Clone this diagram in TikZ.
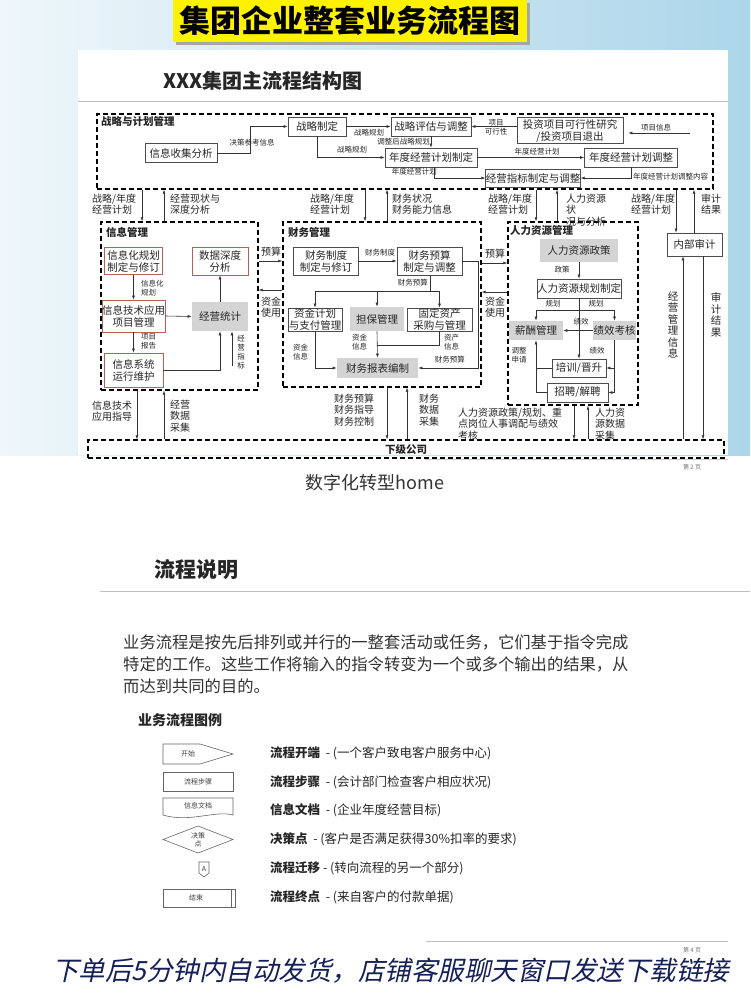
\documentclass[tikz,border=0pt]{standalone}
\usepackage{fontspec}
\setmainfont{Noto Sans CJK SC}
\newfontfamily\kaifont{Noto Sans CJK SC}[FakeSlant=0.22]
\usetikzlibrary{arrows.meta,calc}
\newcommand{\fsz}[2]{\fontsize{#1}{#2}\selectfont}
\definecolor{boxred}{RGB}{185,95,85}
\definecolor{boxgray}{RGB}{212,212,212}
\definecolor{bgblue}{RGB}{172,214,234}
\definecolor{navy}{RGB}{22,32,88}
\tikzset{grp/.style={draw, line width=1.4pt, dash pattern=on 5pt off 3pt, inner sep=0pt},
  grplbl/.style={inner sep=0pt, font=\bfseries\fsz{10.5}{12}},
  proc/.style={draw=black!70, line width=0.7pt, fill=white, inner sep=0pt, align=center, font=\fsz{10.5}{12}},
  redproc/.style={proc, draw=boxred},
  grayproc/.style={proc, draw=none, fill=boxgray},
  lbl/.style={inner sep=0pt, align=center, font=\fsz{7.5}{9}},
  midlbl/.style={inner sep=0pt, align=left, font=\fsz{10}{11.5}},
  vlbl/.style={inner sep=0pt, align=center, font=\fsz{10.5}{11.5}},
  arr/.style={-{Latex[length=4pt,width=3pt]}, line width=0.6pt, draw=black!80},
  ln/.style={line width=0.6pt, draw=black!80},
  shp/.style={draw=black!60, line width=0.6pt},
  sml/.style={inner sep=0pt, align=center, font=\fsz{7}{8}, text=black!75}}

\begin{document}
\begin{tikzpicture}[x=1pt,y=-1pt, every node/.append style={text=black!85}]
\useasboundingbox (0,0) rectangle (750,1000);

% page backgrounds
\fill[white] (0,0) rectangle (750,1000);
\shade[left color=bgblue!20, right color=bgblue] (0,0) rectangle (750,455);
\fill[white] (78,50) rectangle (728,455);

% banner
\fill[black!35] (176,3) rectangle (530,45);
\fill[yellow] (173,0) rectangle (527,42);
\node[font=\bfseries\fsz{31}{34}, inner sep=0pt, text=black] (title) at (350,21) {集团企业整套业务流程图};

\node[font=\bfseries\fsz{20}{22}, inner sep=0pt, anchor=west] (sldtitle) at (163,81) {XXX集团主流程结构图};
\draw[black!25, line width=0.8pt] (78,101) -- (728,101);

% strategy and planning
\node[grp, minimum width=616pt, minimum height=75pt] (zlgl) at (405,151.5) {};
\node[grplbl, anchor=west] (zlgllbl) at (101,121) {战略与计划管理};
\node[proc, minimum width=72pt, minimum height=19pt] (xxsj) at (181,153) {信息收集分析};
\node[proc, minimum width=58pt, minimum height=19pt] (zlzd) at (317,126.5) {战略制定};
\node[proc, minimum width=80pt, minimum height=19pt] (zlpg) at (431,126.5) {战略评估与调整};
\node[proc, minimum width=106pt, minimum height=26pt] (tzxm) at (570,130.5) {投资项目可行性研究\\/投资项目退出};
\node[proc, minimum width=92pt, minimum height=19pt] (ndzd) at (431,157.5) {年度经营计划制定};
\node[proc, minimum width=93pt, minimum height=19pt] (ndtz) at (631,157.5) {年度经营计划调整};
\node[proc, minimum width=94pt, minimum height=18pt] (jyzb) at (533,178) {经营指标制定与调整};

\draw[arr] (xxsj.east) -- ++(33,0) |- (zlzd.west);
\node[lbl] (l1) at (252,143) {决策参考信息};
\draw[arr] (zlzd.east) -- (zlpg.west);
\node[lbl] (l2) at (369,133) {战略规划};
\draw[arr] (zlzd.south) |- (ndzd.west);
\node[lbl] (l3) at (352,150) {战略规划};
\draw[arr] (zlpg.south) -- (ndzd.north);
\node[lbl, anchor=east] (l4) at (430,142) {调整后战略规划};
\draw[arr] (tzxm.west |- zlpg.east) -- (zlpg.east);
\node[lbl] (l5) at (496,127) {项目\\可行性};
\coordinate (xmxx) at (690,133);
\draw[arr, shorten >=5pt] (xmxx) -- (tzxm.east |- xmxx);
\node[lbl] (l6) at (656,128) {项目信息};
\draw[arr] (ndzd.east) -- (ndtz.west);
\node[lbl] (l7) at (537,152) {年度经营计划};
\draw[arr] ([xshift=3pt]ndzd.south) |- (jyzb.west);
\node[lbl, anchor=east] (l8) at (437,172) {年度经营计划};
\draw[arr] (ndtz.south) |- (jyzb.east);
\node[lbl, anchor=west] (l9) at (633,177) {年度经营计划调整内容};

% groups
\node[grp, minimum width=157pt, minimum height=168pt] (xxgl) at (179.5,306) {};
\node[grplbl, anchor=west] (xxgllbl) at (106,232) {信息管理};
\node[grp, minimum width=198pt, minimum height=165pt] (cwgl) at (382,304.5) {};
\node[grplbl, anchor=west] (cwgllbl) at (288,232) {财务管理};
\node[grp, minimum width=130pt, minimum height=183pt] (rlgl) at (573,313.5) {};
\node[grplbl, anchor=west] (rlgllbl) at (510,230) {人力资源管理};
\node[proc, minimum width=55pt, minimum height=23pt] (nbsj) at (694.5,244.5) {内部审计};
\node[grp, minimum width=636pt, minimum height=18pt] (xjgs) at (406,449) {};
\node[grplbl] (xjgslbl) at (406,449) {下级公司};

% flows between the levels
\coordinate (xxd) at (142,0); \coordinate (xxu) at (164,0);
\coordinate (cwd) at (365,0); \coordinate (cwu) at (387,0);
\coordinate (rld) at (536,0); \coordinate (rlu) at (557,0);
\coordinate (sjd) at (676,0); \coordinate (sju) at (694,0);
\coordinate (xxbd) at (137,0); \coordinate (cwbu) at (407,0);
\coordinate (rlbd) at (574,0); \coordinate (rlbu) at (588,0);
\coordinate (sjbu) at (683,0); \coordinate (sjbd) at (703,0);

\draw[arr] (zlgl.south -| xxd) -- (xxgl.north -| xxd);
\draw[arr] (xxgl.north -| xxu) -- (zlgl.south -| xxu);
\draw[arr] (zlgl.south -| cwd) -- (cwgl.north -| cwd);
\draw[arr] (cwgl.north -| cwu) -- (zlgl.south -| cwu);
\draw[arr] (zlgl.south -| rld) -- (rlgl.north -| rld);
\draw[arr] (rlgl.north -| rlu) -- (zlgl.south -| rlu);
\draw[arr] (zlgl.south -| sjd) -- (nbsj.north -| sjd);
\draw[arr] (nbsj.north -| sju) -- (zlgl.south -| sju);

\draw[arr] (xxgl.south -| xxbd) -- (xjgs.north -| xxbd);
\draw[arr] (xjgs.north -| xxu) -- (xxgl.south -| xxu);
\draw[arr] (cwgl.south -| cwu) -- (xjgs.north -| cwu);
\draw[arr] (xjgs.north -| cwbu) -- (cwgl.south -| cwbu);
\draw[arr] (rlgl.south -| rlbd) -- (xjgs.north -| rlbd);
\draw[arr] (xjgs.north -| rlbu) -- (rlgl.south -| rlbu);
\draw[arr] (xjgs.north -| sjbu) -- (nbsj.south -| sjbu);
\draw[arr] (nbsj.south -| sjbd) -- (xjgs.north -| sjbd);

\node[midlbl, anchor=west] (c1) at (92,204) {战略/年度\\经营计划};
\node[midlbl, anchor=west] (c2) at (170,204) {经营现状与\\深度分析};
\node[midlbl, anchor=west] (c3) at (310,204) {战略/年度\\经营计划};
\node[midlbl, anchor=west] (c4) at (392,204) {财务状况\\财务能力信息};
\node[midlbl, anchor=west] (c5) at (488,204) {战略/年度\\经营计划};
\node[midlbl, anchor=west] (c6) at (566,210) {人力资源\\状\\况与分析};
\node[midlbl, anchor=west] (c7) at (631,204) {战略/年度\\经营计划};
\node[midlbl, anchor=west] (c8) at (701,204) {审计\\结果};

\node[midlbl, anchor=west] (b1) at (92,411) {信息技术\\应用指导};
\node[midlbl, anchor=west] (b2) at (170,416) {经营\\数据\\采集};
\node[midlbl, anchor=west] (b3) at (334,410) {财务预算\\财务指导\\财务控制};
\node[midlbl, anchor=west] (b4) at (419,410) {财务\\数据\\采集};
\node[midlbl, anchor=west] (b5) at (458,424) {人力资源政策/规划、重\\点岗位人事调配与绩效\\考核};
\node[midlbl, anchor=west] (b6) at (595,424) {人力资\\源数据\\采集};

\node[vlbl] (jyglxx) at (673,325) {经\\营\\管\\理\\信\\息};
\node[vlbl] (sjjg) at (716,315) {审\\计\\结\\果};

% budget and funds between groups
\coordinate (ys1) at (0,261); \coordinate (zj1) at (0,290);
\coordinate (ys2) at (0,263); \coordinate (zj2) at (0,292);
\draw[arr] (xxgl.east |- ys1) -- (cwgl.west |- ys1);
\draw[arr] (cwgl.west |- zj1) -- (xxgl.east |- zj1);
\draw[arr] (cwgl.east |- ys2) -- (rlgl.west |- ys2);
\draw[arr] (rlgl.west |- zj2) -- (cwgl.east |- zj2);
\node[midlbl] (ys1l) at (271,252) {预算};
\node[midlbl] (zj1l) at (271,307) {资金\\使用};
\node[midlbl] (ys2l) at (495,254) {预算};
\node[midlbl] (zj2l) at (495,307) {资金\\使用};

% information management
\node[redproc, minimum width=58pt, minimum height=27pt] (xhgh) at (133.5,261) {信息化规划\\制定与修订};
\node[redproc, minimum width=56pt, minimum height=28pt] (sjsd) at (220,261) {数据深度\\分析};
\node[redproc, minimum width=59pt, minimum height=32pt] (xxjs) at (133.5,316) {信息技术应用\\项目管理};
\node[grayproc, minimum width=56pt, minimum height=29pt] (jytj) at (220,316.5) {经营统计};
\node[redproc, minimum width=59pt, minimum height=34pt] (xxxt) at (133.5,370) {信息系统\\运行维护};
\draw[arr] (xhgh.south) -- (xxjs.north);
\node[lbl, align=left, anchor=west] (xhghl) at (141,288) {信息化\\规划};
\draw[arr] (xxjs.east) -- (jytj.west);
\draw[arr] (jytj.north) -- (sjsd.south);
\draw[arr] (xxjs.south) -- (xxxt.north);
\node[lbl, align=left, anchor=west] (xmbg) at (141,341) {项目\\报告};
\draw[arr] (xxxt.east) -| (jytj.south);
\coordinate (jyzbin) at (232,366);
\draw[arr] (jyzbin) -- (jyzbin |- jytj.south);
\node[lbl] (jyzbv) at (241,352) {经\\营\\指\\标};

% finance management
\node[proc, minimum width=65pt, minimum height=28pt] (cwzd) at (326,261) {财务制度\\制定与修订};
\node[proc, minimum width=65pt, minimum height=28pt] (cwys) at (429.5,261) {财务预算\\制定与调整};
\node[proc, minimum width=54pt, minimum height=23pt] (zjjh) at (315,319.5) {资金计划\\与支付管理};
\node[grayproc, minimum width=54pt, minimum height=24pt] (dbgl) at (377,319) {担保管理};
\node[proc, minimum width=65pt, minimum height=23pt] (gdzc) at (439.5,319.5) {固定资产\\采购与管理};
\node[grayproc, minimum width=81pt, minimum height=20pt] (cwbb) at (377.5,368) {财务报表编制};
\draw[arr] (cwzd.east) -- (cwys.west);
\node[lbl] (cwzdl) at (380,253) {财务制度};
\coordinate (ysbus) at (430,291);
\draw[ln] (cwys.south -| ysbus) -- (ysbus);
\draw[ln] (zjjh.north |- ysbus) -- (gdzc.north |- ysbus);
\draw[arr] (zjjh.north |- ysbus) -- (zjjh.north);
\draw[arr] (dbgl.north |- ysbus) -- (dbgl.north);
\draw[arr] (gdzc.north |- ysbus) -- (gdzc.north);
\node[lbl, anchor=east] (cwysl) at (428,283) {财务预算};
\draw[arr] (zjjh.south) |- (cwbb.west);
\node[lbl, anchor=west] (zjxx1) at (293,352) {资金\\信息};
\draw[arr] (dbgl.south) -- (cwbb.north);
\node[lbl, anchor=west] (zjxx2) at (352,342) {资金\\信息};
\draw[ln] (gdzc.south) |- ([yshift=-14pt]dbgl.south);
\node[lbl, anchor=west] (zcxx) at (444,342) {资产\\信息};
\draw[arr] (cwys.east) -- ++(16,0) |- (cwbb.east);
\node[lbl, anchor=east] (cwysl2) at (465,360) {财务预算};

% human resources
\node[grayproc, minimum width=78pt, minimum height=23pt] (rlzc) at (579,250.5) {人力资源政策};
\node[proc, minimum width=78pt, minimum height=19pt] (rlgh) at (579,288.5) {人力资源规划制定};
\node[grayproc, minimum width=54pt, minimum height=19pt] (xcgl) at (536,330.5) {薪酬管理};
\node[grayproc, minimum width=43pt, minimum height=19pt] (jxkh) at (614.5,330.5) {绩效考核};
\node[proc, minimum width=54pt, minimum height=18pt] (pxjs) at (579,368) {培训/晋升};
\node[proc, minimum width=61pt, minimum height=19pt] (zpjp) at (577.5,392.5) {招聘/解聘};
\draw[arr] (rlzc.south) -- (rlgh.north);
\node[lbl] (zcl) at (562,270) {政策};
\coordinate (ghbus) at (579,310);
\draw[ln] (xcgl.north |- ghbus) -- (jxkh.north |- ghbus);
\draw[arr] (xcgl.north |- ghbus) -- (xcgl.north);
\draw[arr] (jxkh.north |- ghbus) -- (jxkh.north);
\draw[arr] (rlgh.south) -- (pxjs.north);
\node[lbl] (ghl1) at (553,304) {规划};
\node[lbl] (ghl2) at (596,304) {规划};
\draw[arr] (jxkh.west) -- (xcgl.east);
\node[lbl] (jxl1) at (581,322) {绩效};
\draw[ln] (jxkh.south) -- (jxkh.south |- zpjp.east);
\draw[arr] (jxkh.south |- pxjs.east) -- (pxjs.east);
\draw[arr] (jxkh.south |- zpjp.east) -- (zpjp.east);
\node[lbl] (jxl2) at (597,351) {绩效};
\draw[arr] (zpjp.west) -| (xcgl.south);
\draw[ln] (pxjs.west) -- (pxjs.west -| xcgl.south);
\node[lbl, align=left] (tzsq) at (519,355) {调整\\申请};

% page foot and second slide
\draw[black!20, line width=0.8pt] (425,459) -- (728,459);
\node[font=\fsz{6}{7}, text=black!55, inner sep=0pt] (pg2) at (692,467) {第 2 页};
\node[font=\fsz{18}{20}, text=black!80, inner sep=0pt] (home) at (375,483) {数字化转型home};

\node[font=\bfseries\fsz{21}{24}, anchor=west, inner sep=0pt] (lcsm) at (154,570) {流程说明};
\draw[black!25, line width=0.8pt] (100,591) -- (750,591);
\node[font=\fsz{16.3}{22}, anchor=north west, align=left, text=black!80, inner sep=0pt] (para) at (123,634)
  {业务流程是按先后排列或并行的一整套活动或任务，它们基于指令完成\\特定的工作。这些工作将输入的指令转变为一个或多个输出的结果，从\\而达到共同的目的。};

\node[font=\bfseries\fsz{14}{16}, anchor=west, inner sep=0pt] (tl) at (138,720) {业务流程图例};

% legend shapes
\draw[shp] (163,744) -- (200,744) -- (233,754) -- (200,764) -- (163,764) -- cycle;
\node[sml] (ks) at (188,754) {开始};
\draw[shp] (163,772) rectangle (233,791);
\node[sml] (lcbz) at (198,781.5) {流程步骤};
\draw[shp] (163,798) -- (233,798) -- (233,815) .. controls (215,810) and (190,823) .. (163,815) -- cycle;
\node[sml] (xxwd) at (198,806) {信息文档};
\draw[shp] (163,839.5) -- (198,826) -- (233,839.5) -- (198,853) -- cycle;
\node[sml] (jcd) at (198,839.5) {决策\\点};
\draw[shp] (199,862) -- (209,862) -- (209,873) -- (204,877) -- (199,873) -- cycle;
\node[sml] (qy) at (204,868.5) {A};
\draw[shp] (163,889) rectangle (235,907);
\draw[shp] (231,889) -- (231,907);
\node[sml] (js) at (196,898) {结束};

% legend texts
\node[anchor=west, font=\fsz{12.5}{14}, inner sep=0pt] (lg1) at (270,753) {\textbf{流程开端}~ - (一个客户致电客户服务中心)};
\node[anchor=west, font=\fsz{12.5}{14}, inner sep=0pt] (lg2) at (270,782) {\textbf{流程步骤}~ - (会计部门检查客户相应状况)};
\node[anchor=west, font=\fsz{12.5}{14}, inner sep=0pt] (lg3) at (270,810) {\textbf{信息文档}~ - (企业年度经营目标)};
\node[anchor=west, font=\fsz{12.5}{14}, inner sep=0pt] (lg4) at (270,839) {\textbf{决策点}~ - (客户是否满足获得30\%扣率的要求)};
\node[anchor=west, font=\fsz{12.5}{14}, inner sep=0pt] (lg5) at (270,868) {\textbf{流程迁移} - (转向流程的另一个部分)};
\node[anchor=west, font=\fsz{12.5}{14}, inner sep=0pt] (lg6) at (270,897) {\textbf{流程终点}~ - (来自客户的付款单据)};

% foot of second slide
\draw[black!25, line width=0.8pt] (426,941) -- (728,941);
\node[font=\fsz{6}{7}, text=black!55, inner sep=0pt] (pg4) at (692,950) {第 4 页};
\node[font=\kaifont\fsz{26.5}{28}, text=navy, anchor=west, inner sep=0pt] (ad) at (52,971) {下单后5分钟内自动发货，店铺客服聊天窗口发送下载链接};

\end{tikzpicture}
\end{document}
